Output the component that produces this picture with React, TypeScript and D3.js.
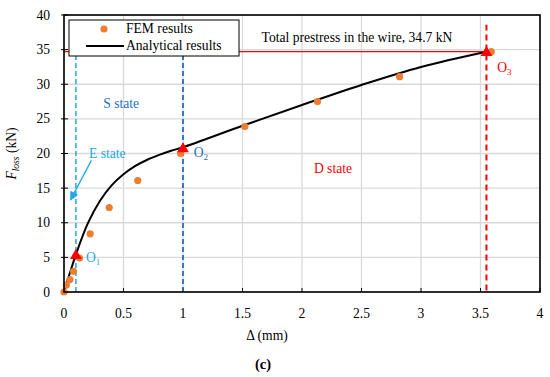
import React from 'react';
import * as d3 from 'd3';

// FEM results (orange dots)
const femX = [0, 0.02, 0.05, 0.08, 0.13, 0.22, 0.38, 0.62, 0.98, 1.52, 2.13, 2.82, 3.59];
const femY = [0, 1.0, 1.8, 3.0, 4.9, 8.4, 12.2, 16.1, 20.0, 23.9, 27.5, 31.1, 34.7];

// analytical curve
const anaX = [0, 0.1, 0.2, 0.3, 0.4, 0.5, 0.6, 0.7, 0.8, 0.9, 1.0, 1.5, 2.0, 2.5, 3.0, 3.55];
const anaY = [0, 5.4, 9.9, 13.1, 15.4, 17.0, 18.2, 19.1, 19.8, 20.4, 20.9, 24.0, 27.0, 29.9, 32.5, 34.7];

// key points O1, O2, O3
const keyNames = ['1', '2', '3'];
const keyX = [0.1, 1.0, 3.55];
const keyY = [5.4, 20.8, 34.7];

const xTicks = [0, 0.5, 1, 1.5, 2, 2.5, 3, 3.5, 4];
const yTicks = [0, 5, 10, 15, 20, 25, 30, 35, 40];
const totalPrestress = 34.7;

const W = 550;
const H = 377;
const margin = { top: 15, right: 10, bottom: 85, left: 64 };
const FONT = '"Liberation Serif", "Times New Roman", serif';
const FS = 13.6;

const LIGHT_BLUE = '#1fa8e6';
const DARK_BLUE = '#1f6fc0';
const RED = '#ff0000';
const ORANGE = '#ed7d31';

export default function App() {
  const x = d3.scaleLinear().domain([0, 4]).range([margin.left, W - margin.right]);
  const y = d3.scaleLinear().domain([0, 40]).range([H - margin.bottom, margin.top]);

  const anaData = anaX.map((v, i) => [v, anaY[i]] as [number, number]);
  const line = d3
    .line<[number, number]>()
    .x((d) => x(d[0]))
    .y((d) => y(d[1]))
    .curve(d3.curveCatmullRom.alpha(0.5));

  const tri = d3.symbol().type(d3.symbolTriangle).size(60)();

  const keyColors = [LIGHT_BLUE, DARK_BLUE, RED];
  const labelPos = [
    [0.185, 4.3],
    [1.09, 19.5],
    [3.64, 31.8],
  ];

  return (
    <div style={{ position: 'absolute', left: 0, top: 0 }}>
      <svg width={W} height={H} style={{ display: 'block', background: '#fff' }} fontFamily={FONT}>
        <defs>
          <marker id="arr" viewBox="0 0 10 10" refX="9" refY="5" markerWidth="11" markerHeight="9" markerUnits="userSpaceOnUse" orient="auto">
            <path d="M0,0 L10,5 L0,10 z" fill={LIGHT_BLUE} />
          </marker>
        </defs>

        {/* grid */}
        {xTicks.map((t) => (
          <line key={'gx' + t} x1={x(t)} x2={x(t)} y1={y(0)} y2={y(40)} stroke="#d9d9d9" strokeWidth={1.3} />
        ))}
        {yTicks.map((t) => (
          <line key={'gy' + t} x1={x(0)} x2={x(4)} y1={y(t)} y2={y(t)} stroke="#d9d9d9" strokeWidth={1.3} />
        ))}

        {/* ticks */}
        {xTicks.map((t) => (
          <g key={'tx' + t}>
            <line x1={x(t)} x2={x(t)} y1={y(0)} y2={y(0) - 4} stroke="#000" />
            <text x={x(t)} y={y(0) + 26} textAnchor="middle" fontSize={FS}>{t}</text>
          </g>
        ))}
        {yTicks.map((t) => (
          <g key={'ty' + t}>
            <line x1={x(0) - 3} x2={x(0) + 4} y1={y(t)} y2={y(t)} stroke="#000" />
            <text x={x(0) - 14} y={y(t) + 4.5} textAnchor="end" fontSize={FS}>{t}</text>
          </g>
        ))}

        {/* state boundaries */}
        <line x1={x(keyX[0])} x2={x(keyX[0])} y1={y(0)} y2={y(38.6)} stroke={LIGHT_BLUE} strokeWidth={1.5} strokeDasharray="5,3" />
        <line x1={x(keyX[1])} x2={x(keyX[1])} y1={y(0)} y2={y(38.6)} stroke={DARK_BLUE} strokeWidth={1.8} strokeDasharray="5,3" />
        <line x1={x(keyX[2])} x2={x(keyX[2])} y1={y(0.2)} y2={y(38.6)} stroke={RED} strokeWidth={2} strokeDasharray="6,4" />
        <line x1={x(0)} x2={x(keyX[2])} y1={y(totalPrestress)} y2={y(totalPrestress)} stroke={RED} strokeWidth={1.3} />

        {/* analytical curve */}
        <path d={line(anaData) || ''} fill="none" stroke="#000" strokeWidth={2} />

        {/* FEM points */}
        {femX.map((v, i) => (
          <circle key={'f' + i} cx={x(v)} cy={y(femY[i])} r={3.6} fill={ORANGE} />
        ))}

        {/* key points */}
        {keyX.map((v, i) => (
          <path key={'k' + i} d={tri || ''} transform={`translate(${x(v)},${y(keyY[i]) + 1})`} fill={RED} />
        ))}
        {keyNames.map((n, i) => (
          <text key={'kl' + i} x={x(labelPos[i][0])} y={y(labelPos[i][1])} fontSize={FS} fill={keyColors[i]}>
            O<tspan fontSize={9} dy={3}>{n}</tspan>
          </text>
        ))}

        {/* annotations */}
        <text x={x(1.66)} y={y(36.1)} fontSize={FS}>Total prestress in the wire, 34.7 kN</text>
        <text x={x(0.33)} y={y(26.6)} fontSize={FS} fill={DARK_BLUE}>S state</text>
        <text x={x(0.21)} y={y(19.4)} fontSize={FS} fill={LIGHT_BLUE}>E state</text>
        <line x1={x(0.23)} y1={y(19.0)} x2={x(0.055)} y2={y(13.3)} stroke={LIGHT_BLUE} strokeWidth={1.3} markerEnd="url(#arr)" />
        <text x={x(2.1)} y={y(17.2)} fontSize={FS} fill={RED}>D state</text>

        {/* plot frame */}
        <rect x={x(0)} y={y(40)} width={x(4) - x(0)} height={y(0) - y(40)} fill="none" stroke="#000" strokeWidth={1.6} />

        {/* legend */}
        <g>
          <rect x={69} y={20} width={170} height={36} fill="#fff" stroke="#000" strokeWidth={1} />
          <circle cx={104} cy={29} r={3.6} fill={ORANGE} />
          <text x={126} y={33} fontSize={FS}>FEM results</text>
          <line x1={86} x2={124} y1={46} y2={46} stroke="#000" strokeWidth={2} />
          <text x={126} y={50} fontSize={FS}>Analytical results</text>
        </g>

        {/* axis titles */}
        <text x={267} y={340} textAnchor="middle" fontSize={FS}>Δ (mm)</text>
        <text transform={`translate(16,${(y(0) + y(40)) / 2}) rotate(-90)`} textAnchor="middle" fontSize={FS}>
          <tspan fontStyle="italic">F</tspan>
          <tspan fontStyle="italic" fontSize={9.5} dy={3}>loss</tspan>
          <tspan dy={-3}> (kN)</tspan>
        </text>
        <text x={263} y={369} textAnchor="middle" fontSize={14.5} fontWeight="bold">(c)</text>
      </svg>
    </div>
  );
}
